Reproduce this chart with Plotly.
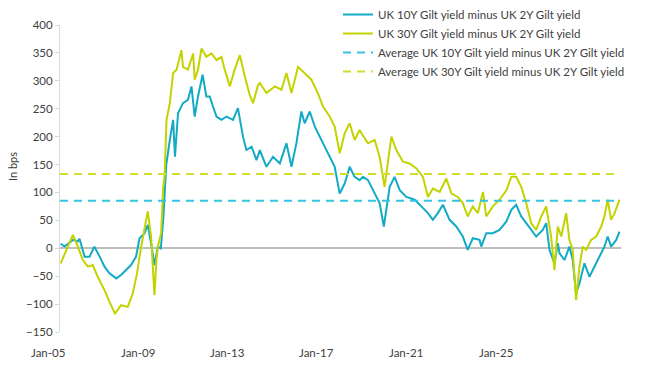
import plotly.graph_objects as go

# ---- data ----
dates_10y = ["2005-01-10","2005-03-01","2005-06-18","2005-08-21","2005-09-12","2005-11-18","2006-01-21","2006-03-25","2006-06-01","2006-08-04",
             "2006-10-07","2007-01-04","2007-03-07","2007-05-10","2007-07-15","2007-09-18","2007-11-03","2008-01-07","2008-02-18","2008-04-01",
             "2008-05-15","2008-06-28","2008-08-06","2008-09-06","2008-09-21","2008-10-16","2008-12-01","2009-01-13","2009-02-06","2009-03-18",
             "2009-05-21","2009-07-25","2009-09-09","2009-10-21","2009-12-03","2010-02-01","2010-03-22","2010-05-04","2010-06-16","2010-08-01",
             "2010-10-04","2010-12-09","2011-03-04","2011-05-07","2011-07-12","2011-08-25","2011-11-01","2012-01-04","2012-02-16","2012-05-12",
             "2012-08-06","2012-11-03","2013-01-28","2013-04-03","2013-06-06","2013-08-10","2013-09-22","2013-11-27","2014-02-01","2014-04-28",
             "2014-07-22","2014-10-18","2014-12-22","2015-02-25","2015-05-01","2015-07-04","2015-09-08","2015-10-21","2015-12-25","2016-03-21",
             "2016-05-25","2016-07-19","2016-10-03","2016-12-06","2017-02-11","2017-05-07","2017-08-24","2017-11-19","2018-02-13","2018-04-18",
             "2018-06-22","2018-08-27","2018-11-22","2019-02-17","2019-05-13","2019-07-16","2019-09-20","2019-12-17","2020-01-09","2020-03-13",
             "2020-06-07","2020-09-03","2020-12-01","2021-02-03","2021-04-07","2021-06-12","2021-08-16","2021-10-19","2021-12-24","2022-03-19",
             "2022-05-03","2022-06-15","2022-07-28","2022-08-19","2022-10-01","2022-10-24","2022-12-28","2023-03-01","2023-04-13","2023-05-27",
             "2023-07-10","2023-09-13","2023-11-17","2024-01-21","2024-03-27","2024-05-30","2024-07-12","2024-08-25","2024-10-31","2024-12-12"]
spread_10y = [8, 3, 15, 12, 17, -15, -15, 3, -15, -33,
              -45, -54, -48, -39, -30, -15, 18, 27, 42, 9,
              -30, 3, 0, 51, 90, 150, 194, 230, 164, 242,
              260, 266, 290, 236, 272, 311, 272, 272, 254, 236,
              230, 236, 230, 251, 200, 176, 182, 158, 176, 146,
              164, 152, 188, 146, 188, 245, 224, 245, 218, 194,
              170, 146, 98, 116, 146, 128, 122, 128, 122, 98,
              81, 39, 110, 128, 104, 92, 87, 75, 63, 51,
              63, 78, 51, 39, 21, -3, 18, 15, 3, 27,
              27, 33, 48, 69, 78, 57, 45, 33, 21, 33,
              45, -3, -21, -27, 9, -9, -21, 3, -21, -81,
              -63, -27, -51, -33, -15, 3, 21, 3, 15, 30]

dates_30y = ["2005-01-10","2005-03-22","2005-06-18","2005-08-21","2005-10-25","2006-01-01","2006-03-04","2006-05-07","2006-08-04","2006-10-07",
             "2006-12-19","2007-03-07","2007-06-03","2007-08-06","2007-10-01","2007-11-24","2008-01-15","2008-02-18","2008-04-01","2008-05-15",
             "2008-06-10","2008-07-01","2008-08-10","2008-09-06","2008-09-24","2008-10-19","2008-12-01","2009-01-13","2009-02-27","2009-05-01",
             "2009-05-21","2009-07-25","2009-10-01","2009-10-21","2009-12-03","2010-01-18","2010-03-22","2010-05-28","2010-08-01","2010-10-04",
             "2010-11-16","2011-01-21","2011-03-25","2011-06-01","2011-08-04","2011-10-07","2011-11-19","2012-01-25","2012-02-16","2012-05-12",
             "2012-08-28","2012-11-24","2013-01-28","2013-04-03","2013-06-28","2013-09-22","2013-12-19","2014-03-13","2014-05-19","2014-08-13",
             "2014-10-18","2014-12-22","2015-02-25","2015-05-01","2015-07-04","2015-09-08","2015-10-01","2015-12-25","2016-03-21","2016-05-25",
             "2016-07-28","2016-10-25","2016-12-28","2017-03-25","2017-06-19","2017-09-16","2017-12-10","2018-02-13","2018-04-18","2018-07-16",
             "2018-10-10","2018-12-16","2019-03-10","2019-05-13","2019-07-16","2019-09-20","2019-11-25","2020-01-31","2020-03-13","2020-06-07",
             "2020-09-03","2020-12-01","2021-02-03","2021-04-07","2021-06-12","2021-08-16","2021-10-19","2021-12-24","2022-02-27","2022-05-03",
             "2022-06-15","2022-07-06","2022-08-19","2022-10-01","2022-11-15","2023-01-18","2023-03-01","2023-04-13","2023-05-27","2023-07-10",
             "2023-08-22","2023-10-06","2023-12-10","2024-02-12","2024-04-18","2024-05-30","2024-07-12","2024-08-25","2024-10-10","2024-12-12"]
spread_30y = [-27, -3, 24, 3, -21, -33, -30, -51, -75, -96,
              -117, -102, -105, -81, -45, 3, 39, 66, 21, -84,
              -20, 5, 27, 110, 130, 230, 260, 314, 320, 355,
              325, 320, 349, 302, 320, 358, 343, 349, 337, 343,
              320, 290, 320, 346, 308, 275, 260, 293, 296, 278,
              290, 284, 314, 278, 325, 314, 302, 278, 254, 236,
              218, 170, 206, 224, 194, 212, 206, 188, 194, 164,
              110, 200, 176, 155, 152, 143, 128, 92, 107, 101,
              125, 98, 92, 81, 57, 75, 63, 101, 57, 75,
              87, 104, 128, 128, 110, 81, 45, 33, 57, 75,
              33, 21, -39, 39, 21, 63, 15, -3, -93, -33,
              3, -3, 15, 21, 39, 57, 87, 51, 63, 87]

avg_10y = 85
avg_30y = 133
avg_span = ["2005-01-01", "2024-12-12"]

series_names = ["UK 10Y Gilt yield minus UK 2Y Gilt yield",
                "UK 30Y Gilt yield minus UK 2Y Gilt yield",
                "Average UK 10Y Gilt yield minus UK 2Y Gilt yield",
                "Average UK 30Y Gilt yield minus UK 2Y Gilt yield"]

x_tick_labels = ["Jan-05", "Jan-09", "Jan-13", "Jan-17", "Jan-21", "Jan-25"]
x_tick_dates = ["2005-01-01", "2009-01-01", "2013-01-01", "2017-01-01", "2021-01-01", "2025-01-01"]
y_ticks = [-150, -100, -50, 0, 50, 100, 150, 200, 250, 300, 350, 400]

# ---- styles ----
TEAL = "#13AAC6"
LIME = "#C3D300"
TEAL_D = "#36C4DE"
LIME_D = "#D2DE2E"
TXT = "#404040"
FONT = "Lato"

fig = go.Figure()
fig.add_trace(go.Scatter(x=dates_10y, y=spread_10y, mode="lines", name=series_names[0],
                         line=dict(color=TEAL, width=2)))
fig.add_trace(go.Scatter(x=dates_30y, y=spread_30y, mode="lines", name=series_names[1],
                         line=dict(color=LIME, width=2)))
fig.add_trace(go.Scatter(x=avg_span, y=[avg_10y, avg_10y], mode="lines", name=series_names[2],
                         line=dict(color=TEAL_D, width=2, dash="8px,6px")))
fig.add_trace(go.Scatter(x=avg_span, y=[avg_30y, avg_30y], mode="lines", name=series_names[3],
                         line=dict(color=LIME_D, width=2, dash="8px,6px")))

W, H = 655, 372
L, R, T, B = 60, 34, 25, 40
pw = W - L - R
ph = H - T - B

# x tick labels sit under the chart at an even spacing (as in the reference)
label_x0 = (48 - L) / pw
label_step = 89.6 / pw
annotations = []
for i, lab in enumerate(x_tick_labels):
    annotations.append(dict(text=lab, x=label_x0 + i * label_step, y=-(352 - (H - B)) / ph,
                            xref="paper", yref="paper", showarrow=False,
                            font=dict(family=FONT, size=11.5, color=TXT), xanchor="center", yanchor="middle"))
annotations.append(dict(text="In bps", x=(12 - L) / pw, y=(H - B - 167) / ph,
                        xref="paper", yref="paper", showarrow=False, textangle=-90,
                        font=dict(family=FONT, size=11, color=TXT), xanchor="center", yanchor="middle"))

fig.update_layout(
    width=W, height=H,
    margin=dict(l=L, r=R, t=T, b=B, autoexpand=False),
    paper_bgcolor="white", plot_bgcolor="white",
    font=dict(family=FONT, size=11, color=TXT),
    showlegend=True,
    legend=dict(x=(338 - L) / pw, y=1 + 25 / ph, xanchor="left", yanchor="top",
                bgcolor="rgba(0,0,0,0)", font=dict(family=FONT, size=11.5, color=TXT),
                itemwidth=30, tracegroupgap=0),
    annotations=annotations,
    xaxis=dict(type="date", range=["2005-01-01", "2025-01-01"], showgrid=False, zeroline=False,
               showline=False, ticks="", tickvals=x_tick_dates, showticklabels=False),
    yaxis=dict(range=[-150, 400], tickvals=y_ticks, showgrid=False,
               zeroline=True, zerolinecolor="#BFBFBF", zerolinewidth=2,
               showline=True, linecolor="#D9D9D9", linewidth=1,
               ticks="outside", ticklen=4, tickcolor="#D9D9D9",
               tickfont=dict(family=FONT, size=11.5, color=TXT)),
)

fig.write_html("out.html", config={"displayModeBar": False},
               post_script="document.body.style.margin='0';")
